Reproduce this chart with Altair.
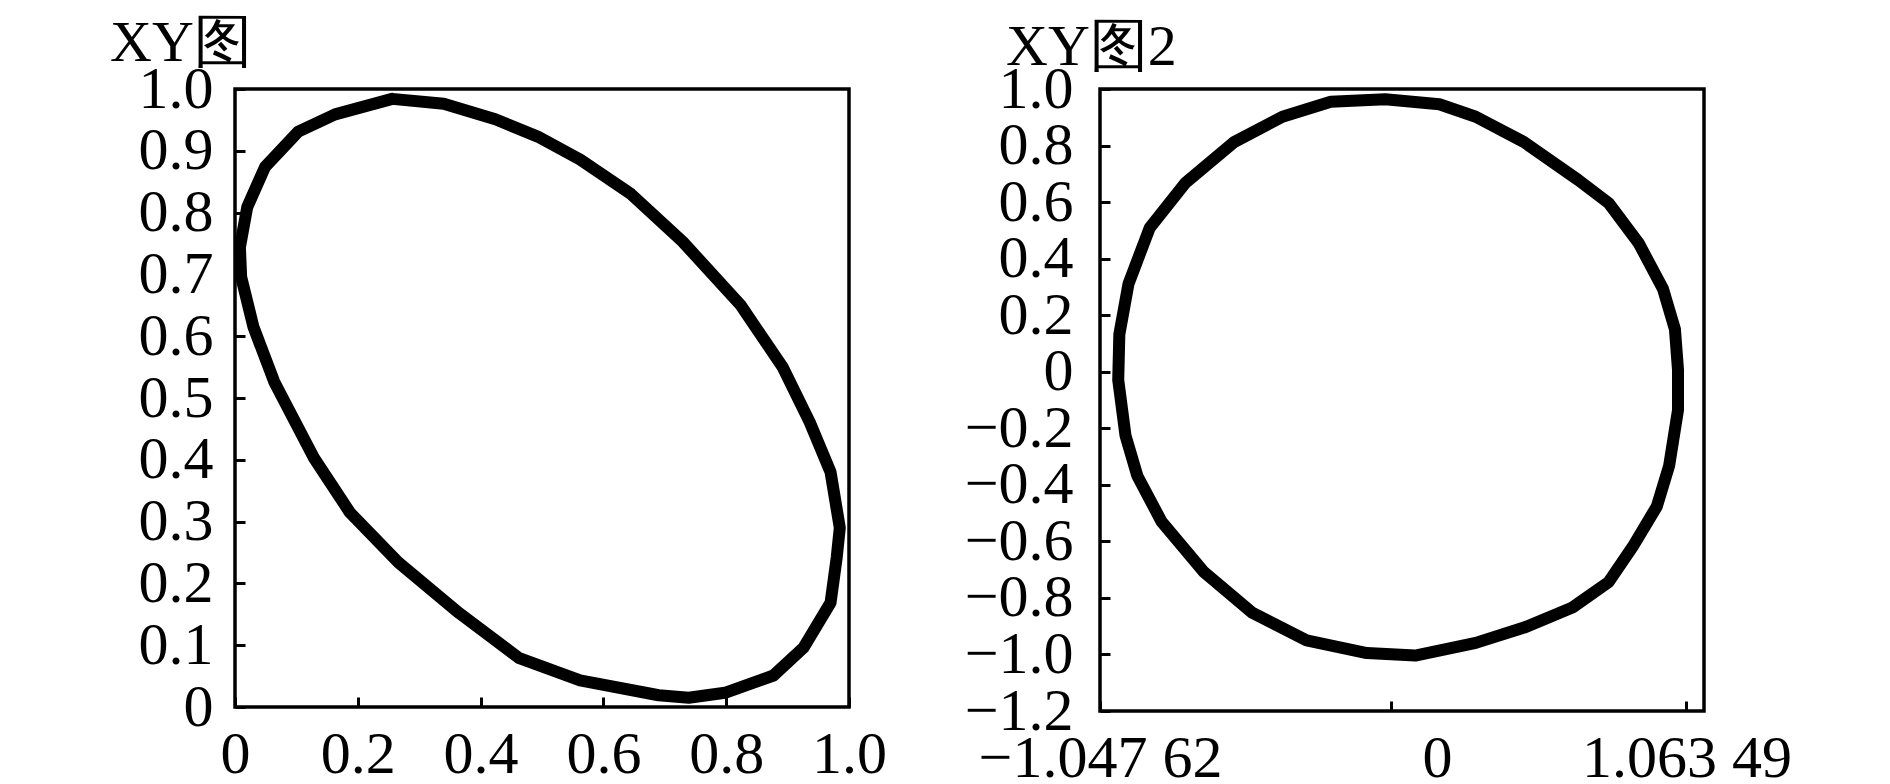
import altair as alt
import pandas as pd

# ---- data ----
left_x = [0.256, 0.340, 0.424, 0.493, 0.562, 0.645, 0.729, 0.823, 0.892, 0.936, 0.970, 0.985,
          0.980, 0.970, 0.926, 0.877, 0.798, 0.739, 0.690, 0.562, 0.463, 0.365, 0.266, 0.187,
          0.128, 0.064, 0.030, 0.010, 0.008, 0.020, 0.049, 0.103, 0.163, 0.256]
left_y = [0.984, 0.976, 0.951, 0.923, 0.886, 0.830, 0.753, 0.651, 0.550, 0.461, 0.380, 0.290,
          0.242, 0.169, 0.096, 0.051, 0.023, 0.015, 0.019, 0.043, 0.079, 0.152, 0.234, 0.315,
          0.404, 0.526, 0.615, 0.696, 0.744, 0.809, 0.874, 0.931, 0.959, 0.984]

right_x = [-0.021, 0.174, 0.305, 0.479, 0.674, 0.783, 0.892, 0.979, 1.022, 1.033, 1.033, 1.001,
           0.957, 0.870, 0.783, 0.653, 0.479, 0.305, 0.087, -0.087, -0.304, -0.500, -0.674,
           -0.826, -0.913, -0.956, -0.982, -0.978, -0.945, -0.869, -0.739, -0.565, -0.391,
           -0.217, -0.021]
right_y = [0.964, 0.946, 0.902, 0.812, 0.678, 0.597, 0.454, 0.293, 0.150, 0.007, -0.136, -0.333,
           -0.476, -0.619, -0.744, -0.834, -0.905, -0.959, -1.004, -0.995, -0.950, -0.852,
           -0.708, -0.530, -0.369, -0.225, -0.029, 0.132, 0.311, 0.508, 0.669, 0.812, 0.902,
           0.955, 0.964]

left_title = "XY图"
right_title = "XY图2"
left_x_ticks = [0, 0.2, 0.4, 0.6, 0.8, 1.0]
left_y_ticks = [0, 0.1, 0.2, 0.3, 0.4, 0.5, 0.6, 0.7, 0.8, 0.9, 1.0]
right_y_ticks = [-1.2, -1.0, -0.8, -0.6, -0.4, -0.2, 0, 0.2, 0.4, 0.6, 0.8, 1.0]
right_x_ticks = [-1.04762, 0, 1.06349]
right_x_tick_labels = ["\u22121.047 62", "0", "1.063 49"]
right_x_domain = [-1.04762, 1.1266]
right_y_domain = [-1.2, 1.0]

FONT = "Liberation Serif"
FS = 60

df_left = pd.DataFrame({"x": left_x, "y": left_y, "i": range(len(left_x))})
df_right = pd.DataFrame({"x": right_x, "y": right_y, "i": range(len(right_x))})

num_expr = "datum.value == 0 ? '0' : format(datum.value, '.1f')"
rx_expr = ("datum.value < -0.5 ? '%s' : (datum.value > 0.5 ? '%s' : '%s')"
           % (right_x_tick_labels[0], right_x_tick_labels[2], right_x_tick_labels[1]))


def axis(values, expr, pad, **kw):
    return alt.Axis(values=values, labelExpr=expr, title=None, grid=False, domain=False,
                    tickSize=alt.ExprRef(expr="-10"), tickWidth=3, tickColor="black",
                    labelFont=FONT, labelFontSize=FS, labelColor="black", labelLimit=1000,
                    labelPadding=pad, labelFlush=False, labelOverlap=False, **kw)


def title(text, dx, offset):
    return alt.TitleParams(text, anchor="start", frame="group", dx=dx, font=FONT,
                           fontSize=58, fontWeight="normal", color="black",
                           baseline="alphabetic", offset=offset)


line_style = dict(color="black", strokeWidth=12, strokeJoin="round", strokeCap="round")

left = alt.Chart(df_left).mark_line(**line_style).encode(
    x=alt.X("x:Q", scale=alt.Scale(domain=[0, 1], nice=False, zero=False),
            axis=axis(left_x_ticks, num_expr, 28)),
    y=alt.Y("y:Q", scale=alt.Scale(domain=[0, 1], nice=False, zero=False),
            axis=axis(left_y_ticks, num_expr, 32)),
    order="i:Q",
).properties(width=614, height=618, title=title(left_title, -125, -60))

right = alt.Chart(df_right).mark_line(**line_style).encode(
    x=alt.X("x:Q", scale=alt.Scale(domain=right_x_domain, nice=False, zero=False),
            axis=axis(right_x_ticks, rx_expr, 28,
                      labelOffset={"condition": {"test": "datum.value == 0", "value": 46},
                                   "value": 0})),
    y=alt.Y("y:Q", scale=alt.Scale(domain=right_y_domain, nice=False, zero=False),
            axis=axis(right_y_ticks, num_expr, 37)),
    order="i:Q",
).properties(width=604, height=622, title=title(right_title, -94, -64))

chart = alt.hconcat(left, right, spacing=73).properties(
    padding={"left": 100, "top": 5, "right": 5, "bottom": 5},
    background="white",
).configure_view(stroke="black", strokeWidth=3.5)

chart.save("out.html", embed_options={"renderer": "svg", "actions": False})
